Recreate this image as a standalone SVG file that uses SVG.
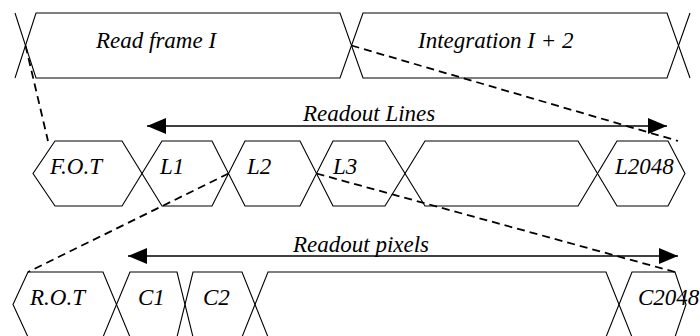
<svg xmlns="http://www.w3.org/2000/svg" width="700" height="336" viewBox="0 0 700 336">
<defs>
<style>
.s{fill:none;stroke:#000;stroke-width:1.1;stroke-linejoin:miter}
.t{font-family:"Liberation Serif","Times New Roman",serif;font-style:italic;font-size:23px;fill:#000}
.d{fill:none;stroke:#000;stroke-width:1.8;stroke-dasharray:8 5}
.a{fill:none;stroke:#000;stroke-width:1.3}
</style>
<marker id="ah" markerUnits="userSpaceOnUse" markerWidth="20" markerHeight="18" refX="19" refY="8" orient="auto-start-reverse" viewBox="0 0 20 16">
<path d="M0,0 L19,8 L0,16 z" fill="#000"/>
</marker>
</defs>
<rect width="700" height="336" fill="#fff"/>
<g id="read-frame">
<polygon class="s" points="36,13 340,13 351.5,45.5 340,78 36,78 25.5,45.5"/>
<polyline class="s" points="15,13 25.5,45.5 15,78"/>
<text class="t" x="96" y="48">Read frame I</text>
</g>
<g id="integration">
<polygon class="s" points="363,13 667,13 678.5,45.5 667,78 363,78 351.5,45.5"/>
<polyline class="s" points="690,13 678.5,45.5 690,78"/>
<text class="t" x="418" y="48">Integration I + 2</text>
</g>
<g id="fot">
<polygon class="s" points="55,141 122,141 142,173.5 122,206 55,206 33,173.5"/>
<text class="t" x="50" y="174">F.O.T</text>
</g>
<g id="l1">
<polygon class="s" points="162,141 212,141 228.5,173.5 212,206 162,206 142,173.5"/>
<text class="t" x="160" y="174">L1</text>
</g>
<g id="l2">
<polygon class="s" points="245,141 300,141 316.5,173.5 300,206 245,206 228.5,173.5"/>
<text class="t" x="247" y="174">L2</text>
</g>
<g id="l3">
<polygon class="s" points="333,141 385,141 405,173.5 385,206 333,206 316.5,173.5"/>
<text class="t" x="333" y="174">L3</text>
</g>
<g id="lines-gap">
<polygon class="s" points="425,141 578,141 597.5,173.5 578,206 425,206 405,173.5"/>
</g>
<g id="l2048">
<polygon class="s" points="617,141 668,141 685,173.5 668,206 617,206 597.5,173.5"/>
<text class="t" x="615" y="174">L2048</text>
</g>
<g id="rot">
<polygon class="s" points="28,272 103,272 116.5,304.5 103,337 28,337 13,304.5"/>
<text class="t" x="30" y="305">R.O.T</text>
</g>
<g id="c1">
<polygon class="s" points="130,272 177,272 185,304.5 177,337 130,337 116.5,304.5"/>
<text class="t" x="138" y="305">C1</text>
</g>
<g id="c2">
<polygon class="s" points="193,272 242,272 255,304.5 242,337 193,337 185,304.5"/>
<text class="t" x="203" y="305">C2</text>
</g>
<g id="pixels-gap">
<polygon class="s" points="268,272 606,272 619,304.5 606,337 268,337 255,304.5"/>
</g>
<g id="c2048">
<polygon class="s" points="632,272 675,272 686,304.5 675,337 632,337 619,304.5"/>
<text class="t" x="638" y="305">C2048</text>
</g>
<g id="connectors">
<line class="a" x1="147" y1="126" x2="667" y2="126" marker-start="url(#ah)" marker-end="url(#ah)"/>
<text class="t" x="303" y="121">Readout Lines</text>
<line class="a" x1="128" y1="256" x2="678" y2="256" marker-start="url(#ah)" marker-end="url(#ah)"/>
<text class="t" x="293" y="252">Readout pixels</text>
<line class="d" x1="25.5" y1="45.5" x2="48" y2="141"/>
<line class="d" x1="351.5" y1="45.5" x2="678" y2="141"/>
<line class="d" x1="228.5" y1="173.5" x2="28" y2="272"/>
<line class="d" x1="316.5" y1="173.5" x2="675" y2="272"/>
</g>
</svg>
